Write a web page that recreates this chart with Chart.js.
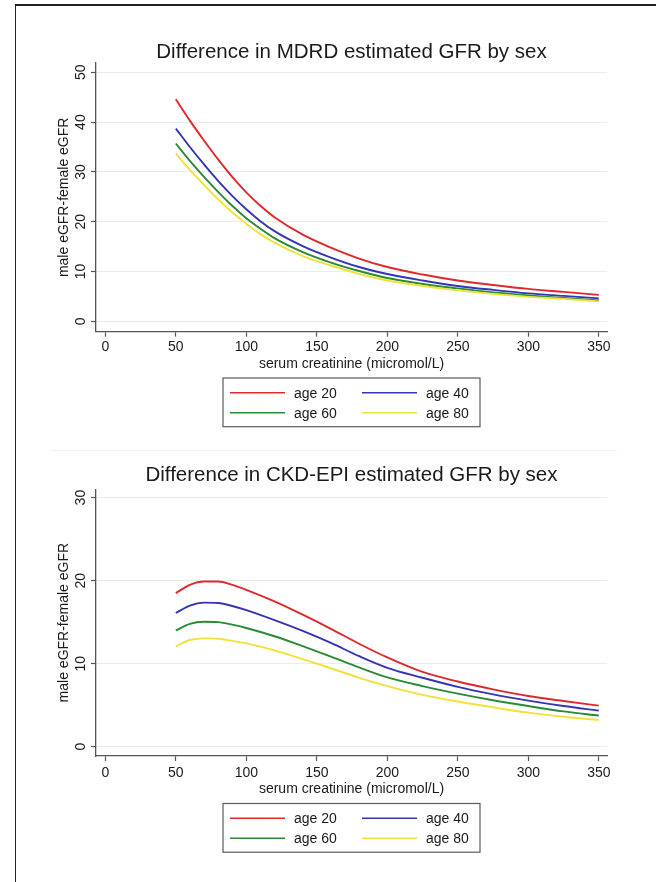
<!DOCTYPE html>
<html>
<head>
<meta charset="utf-8">
<script src="https://cdn.jsdelivr.net/npm/chart.js@4.4.1/dist/chart.umd.min.js"></script>
<style>
  html, body { margin: 0; padding: 0; background: #ffffff; }
  body { width: 656px; height: 882px; position: relative; overflow: hidden; }
  #frame { position: absolute; left: 15px; top: 4px; width: 660px; height: 900px;
           border-top: 2px solid #222; border-left: 1.5px solid #222; box-sizing: border-box; }
  #sep { position: absolute; left: 50px; top: 450px; width: 567px; height: 1px; background: #f1f2f2; }
  .box { position: absolute; left: 0; width: 656px; }
  #c1 { top: 0; height: 440px; }
  #c2 { top: 440px; height: 442px; }
</style>
</head>
<body>
<div id="frame"></div>
<div id="sep"></div>
<div class="box" id="c1"><canvas id="chart1"></canvas></div>
<div class="box" id="c2"><canvas id="chart2"></canvas></div>
<script>
// ---------- data ----------
const seriesLabels = ['age 20', 'age 40', 'age 60', 'age 80'];
const xTicks = [0, 50, 100, 150, 200, 250, 300, 350];

// MDRD panel
const mdrdCreatinine = [50, 60, 70, 80, 90, 100, 110, 120, 140, 160, 180, 200, 225, 250, 275, 300, 325, 350];
const mdrdAge20 = [44.6, 40.3, 36.3, 32.5, 29.0, 25.9, 23.2, 20.9, 17.4, 14.8, 12.6, 10.9, 9.4, 8.2, 7.3, 6.5, 5.9, 5.3];
const mdrdAge40 = [38.7, 35.0, 31.5, 28.2, 25.2, 22.5, 20.1, 18.1, 15.1, 12.8, 10.9, 9.5, 8.2, 7.1, 6.3, 5.6, 5.1, 4.6];
const mdrdAge60 = [35.7, 32.2, 29.0, 26.0, 23.2, 20.7, 18.6, 16.7, 13.9, 11.8, 10.1, 8.7, 7.5, 6.6, 5.8, 5.2, 4.7, 4.2];
const mdrdAge80 = [33.7, 30.4, 27.4, 24.5, 21.9, 19.6, 17.5, 15.8, 13.1, 11.2, 9.5, 8.2, 7.1, 6.2, 5.5, 4.9, 4.5, 4.0];
const mdrdYTicks = [0, 10, 20, 30, 40, 50];

// CKD-EPI panel
const ckdCreatinine = [50, 60, 70, 80, 90, 100, 120, 140, 160, 180, 200, 225, 250, 275, 300, 325, 350];
const ckdAge20 = [18.5, 19.5, 19.9, 19.9, 19.5, 18.9, 17.5, 15.9, 14.2, 12.4, 10.75, 9.0, 7.85, 6.9, 6.1, 5.5, 4.95];
const ckdAge40 = [16.1, 17.0, 17.35, 17.3, 16.95, 16.45, 15.25, 13.95, 12.5, 10.9, 9.5, 8.3, 7.2, 6.3, 5.55, 4.9, 4.35];
const ckdAge60 = [14.0, 14.8, 15.05, 15.0, 14.7, 14.3, 13.3, 12.1, 10.85, 9.55, 8.35, 7.3, 6.4, 5.6, 4.9, 4.25, 3.75];
const ckdAge80 = [12.1, 12.85, 13.05, 13.0, 12.75, 12.45, 11.6, 10.55, 9.45, 8.3, 7.3, 6.25, 5.45, 4.75, 4.1, 3.6, 3.2];
const ckdYTicks = [0, 10, 20, 30];

// ---------- styling ----------
const FONT = "'Liberation Sans', Arial, Helvetica, sans-serif";
const TEXT = '#1a1a1a';
const AXIS = '#555555';
const GRID = '#e7eded';
const colors = ['#e0282c', '#3434b4', '#2a8a35', '#efe23a'];

Chart.defaults.font.family = FONT;
Chart.defaults.color = TEXT;

function pairs(xs, ys) { return xs.map((x, i) => ({ x: x, y: ys[i] })); }

function makeDatasets(xs, arrs) {
  return arrs.map((ys, i) => ({
    label: seriesLabels[i],
    data: pairs(xs, ys),
    borderColor: colors[i],
    backgroundColor: colors[i],
    borderWidth: 1.9,
    pointRadius: 0,
    cubicInterpolationMode: 'monotone',
    fill: false
  })).reverse(); // draw age 20 on top
}

// chart title centred over the plot region
const plotTitle = {
  id: 'plotTitle',
  afterDraw(chart, args, opts) {
    const ctx = chart.ctx, a = chart.chartArea;
    ctx.save();
    ctx.font = '20.5px ' + FONT;
    ctx.fillStyle = TEXT;
    ctx.textAlign = 'center';
    ctx.textBaseline = 'alphabetic';
    ctx.fillText(opts.text, (a.left + a.right) / 2, opts.baseline);
    ctx.restore();
  }
};

// rotated (Stata style) y tick labels, placed from the library's own scale
const stataYLabels = {
  id: 'stataYLabels',
  afterDraw(chart, args, opts) {
    const s = chart.scales.y, ctx = chart.ctx;
    ctx.save();
    ctx.font = '14px ' + FONT;
    ctx.fillStyle = TEXT;
    ctx.textAlign = 'center';
    ctx.textBaseline = 'alphabetic';
    s.ticks.forEach(t => {
      const y = s.getPixelForValue(t.value);
      ctx.save();
      ctx.translate(opts.x, y);
      ctx.rotate(-Math.PI / 2);
      ctx.fillText(String(t.value), 0, 0);
      ctx.restore();
    });
    ctx.restore();
  }
};

// boxed two-column legend built from the datasets
const stataLegend = {
  id: 'stataLegend',
  afterDraw(chart, args, opts) {
    const ctx = chart.ctx, a = chart.chartArea;
    const w = 257, h = 48.7;
    const left = (a.left + a.right) / 2 - w / 2;
    const top = a.bottom + opts.offset;
    ctx.save();
    ctx.strokeStyle = '#5a5a5a';
    ctx.lineWidth = 1.2;
    ctx.strokeRect(left, top, w, h);
    ctx.font = '14px ' + FONT;
    ctx.fillStyle = TEXT;
    ctx.textAlign = 'left';
    ctx.textBaseline = 'middle';
    const items = chart.data.datasets.slice().reverse();
    items.forEach((ds, i) => {
      const col = i % 2, row = Math.floor(i / 2);
      const lx = left + (col === 0 ? 7 : 139);
      const y = top + (row === 0 ? 14.7 : 34.7);
      ctx.strokeStyle = ds.borderColor;
      ctx.lineWidth = 1.6;
      ctx.beginPath();
      ctx.moveTo(lx, y);
      ctx.lineTo(lx + 55, y);
      ctx.stroke();
      ctx.fillText(ds.label, lx + 64, y + 1);
    });
    ctx.restore();
  }
};

function makeChart(id, cfg) {
  return new Chart(document.getElementById(id), {
    type: 'line',
    data: { datasets: makeDatasets(cfg.xs, cfg.series) },
    plugins: [plotTitle, stataYLabels, stataLegend],
    options: {
      responsive: true,
      maintainAspectRatio: false,
      animation: false,
      events: [],
      layout: { padding: { left: 0, right: 49, top: cfg.plotTop, bottom: 0 } },
      plugins: {
        legend: { display: false },
        tooltip: { enabled: false },
        title: { display: false },
        plotTitle: { text: cfg.title, baseline: cfg.titleBaseline },
        stataYLabels: { x: 85 },
        stataLegend: { offset: cfg.legendOffset }
      },
      scales: {
        x: {
          type: 'linear',
          min: -6.6,
          max: 355.8,
          afterBuildTicks: s => { s.ticks = xTicks.map(v => ({ value: v })); },
          afterFit: s => { s.height = cfg.xHeight; },
          ticks: { color: TEXT, font: { size: 14 }, padding: cfg.xTickPad, maxRotation: 0 },
          grid: { display: true, drawOnChartArea: false, drawTicks: true, tickLength: 5, color: AXIS, tickColor: AXIS, tickWidth: 1.2 },
          border: { display: true, color: AXIS, width: 1.3 },
          title: {
            display: true,
            text: 'serum creatinine (micromol/L)',
            color: TEXT,
            font: { size: 14 },
            padding: { top: 0, bottom: cfg.xTitlePad }
          }
        },
        y: {
          type: 'linear',
          min: cfg.yMin,
          max: cfg.yMax,
          afterBuildTicks: s => { s.ticks = cfg.yTicks.map(v => ({ value: v })); },
          afterFit: s => { s.width = 96; },
          ticks: { display: false },
          grid: { display: true, drawOnChartArea: true, drawTicks: true, tickLength: 5, color: GRID, tickColor: AXIS, lineWidth: 1, tickWidth: 1.2 },
          border: { display: true, color: AXIS, width: 1.3 },
          title: {
            display: true,
            text: 'male eGFR-female eGFR',
            color: TEXT,
            font: { size: 14 },
            padding: { top: 55.6, bottom: 0 }
          }
        }
      }
    }
  });
}

makeChart('chart1', {
  xs: mdrdCreatinine,
  series: [mdrdAge20, mdrdAge40, mdrdAge60, mdrdAge80],
  title: 'Difference in MDRD estimated GFR by sex',
  titleBaseline: 57.5,
  plotTop: 63,
  yMin: -2.09, yMax: 51.87, yTicks: mdrdYTicks,
  xHeight: 440 - 331.7,
  xTickPad: 2.5,
  xTitlePad: 67.4,
  legendOffset: 46.3
});

makeChart('chart2', {
  xs: ckdCreatinine,
  series: [ckdAge20, ckdAge40, ckdAge60, ckdAge80],
  title: 'Difference in CKD-EPI estimated GFR by sex',
  titleBaseline: 41,
  plotTop: 49.3,
  yMin: -1.12, yMax: 31.0, yTicks: ckdYTicks,
  xHeight: 442 - 316,
  xTickPad: 3.5,
  xTitlePad: 84.9,
  legendOffset: 47.5
});
</script>
</body>
</html>
